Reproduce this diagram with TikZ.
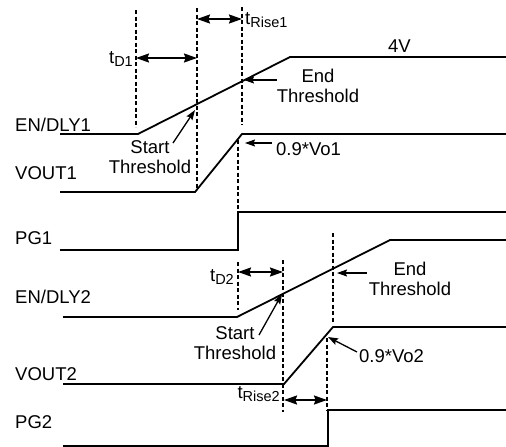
\documentclass[tikz,border=0pt]{standalone}
\usepackage{fontspec}
\setmainfont{Liberation Sans}
\usepackage{tikz}
\usetikzlibrary{arrows.meta, positioning}

\newcommand{\tsub}[1]{t\raisebox{-3.5pt}{\fontsize{14.5}{15}\selectfont #1}}

\begin{document}
\begin{tikzpicture}[
    x=1pt, y=-1pt,
    font=\fontsize{18.5}{20}\selectfont,
    signal/.style={line width=1.8pt, line join=miter},
    marker/.style={line width=1.5pt, dash pattern=on 4pt off 2.5pt},
    timing/.style={{Stealth[length=13pt, width=9pt, inset=1.5pt]}-{Stealth[length=13pt, width=9pt, inset=1.5pt]}, line width=1.6pt},
    pointer/.style={-{Stealth[length=10pt, width=7pt, inset=1.5pt]}, line width=1.3pt},
    lbl/.style={anchor=base west, inner sep=0pt},
    note/.style={inner sep=0pt, align=center, anchor=base}
]
    \useasboundingbox (0,0) rectangle (506,447);

    % Signal names
    \node[lbl] (endly1) at (15,131) {EN/DLY1};
    \node[lbl] (vout1) at (15,179) {VOUT1};
    \node[lbl] (pg1) at (15,244) {PG1};
    \node[lbl] (endly2) at (15,303) {EN/DLY2};
    \node[lbl] (vout2) at (15,380) {VOUT2};
    \node[lbl] (pg2) at (15,428) {PG2};

    % Waveforms
    \draw[signal] (60,134) -- (138,134) -- (290,57) -- (506,57);
    \draw[signal] (60,192) -- (195,192) -- (242,134) -- (506,134);
    \draw[signal] (60,250) -- (238,250) -- (238,212) -- (506,212);
    \draw[signal] (63,317) -- (237,317) -- (390,240) -- (506,240);
    \draw[signal] (63,384) -- (284,384) -- (333,327) -- (506,327);
    \draw[signal] (63,446) -- (328,446) -- (328,410) -- (506,410);

    % Markers
    \draw[marker] (136,10) -- (136,127);
    \draw[marker] (197,8) -- (197,190);
    \draw[marker] (242,7) -- (242,125);
    \draw[marker] (238,140) -- (238,212);
    \draw[marker] (238,262) -- (238,310);
    \draw[marker] (283,260) -- (283,412);
    \draw[marker] (333,233) -- (333,323);
    \draw[marker] (327,338) -- (327,410);

    % Timing intervals
    \coordinate (d1a) at (136,58);
    \coordinate (d1b) at (197,58);
    \coordinate (r1a) at (197,19);
    \coordinate (r1b) at (242,19);
    \coordinate (d2a) at (238,272);
    \coordinate (d2b) at (283,272);
    \coordinate (r2a) at (284,400);
    \coordinate (r2b) at (327,400);
    \draw[timing] (d1a) -- (d1b);
    \draw[timing] (r1a) -- (r1b);
    \draw[timing] (d2a) -- (d2b);
    \draw[timing] (r2a) -- (r2b);
    \node[lbl, anchor=base east] (td1) at (133,63) {\tsub{D1}};
    \node[lbl] (trise1) at (245,24) {\tsub{Rise1}};
    \node[lbl, anchor=base east] (td2) at (234,281) {\tsub{D2}};
    \node[lbl, anchor=base east] (trise2) at (280,398) {\tsub{Rise2}};

    % Thresholds, channel 1
    \node[note] (start1) at (150,173) {Start\\[0pt]Threshold};
    \node[note] (end1) at (318,102) {End\\[0pt]Threshold};
    \node[lbl] (vo1) at (276,155) {0.9*Vo1};
    \node[lbl] (top1) at (388,52) {4V};
    \coordinate (st1) at (173,143);
    \coordinate (sp1) at (195,110);
    \coordinate (et1) at (277,80);
    \coordinate (ep1) at (244,80);
    \coordinate (vt1) at (272,143);
    \coordinate (vp1) at (245,143);
    \draw[pointer] (st1) -- (sp1);
    \draw[pointer] (et1) -- (ep1);
    \draw[pointer] (vt1) -- (vp1);

    % Thresholds, channel 2
    \node[note] (start2) at (235,359) {Start\\[0pt]Threshold};
    \node[note] (end2) at (410,295) {End\\[0pt]Threshold};
    \node[lbl] (vo2) at (359,362) {0.9*Vo2};
    \coordinate (st2) at (259,335);
    \coordinate (sp2) at (282,294);
    \coordinate (et2) at (367,273);
    \coordinate (ep2) at (337,273);
    \coordinate (vt2) at (357,352);
    \coordinate (vp2) at (328,337);
    \draw[pointer] (st2) -- (sp2);
    \draw[pointer] (et2) -- (ep2);
    \draw[pointer] (vt2) -- (vp2);

\end{tikzpicture}
\end{document}
